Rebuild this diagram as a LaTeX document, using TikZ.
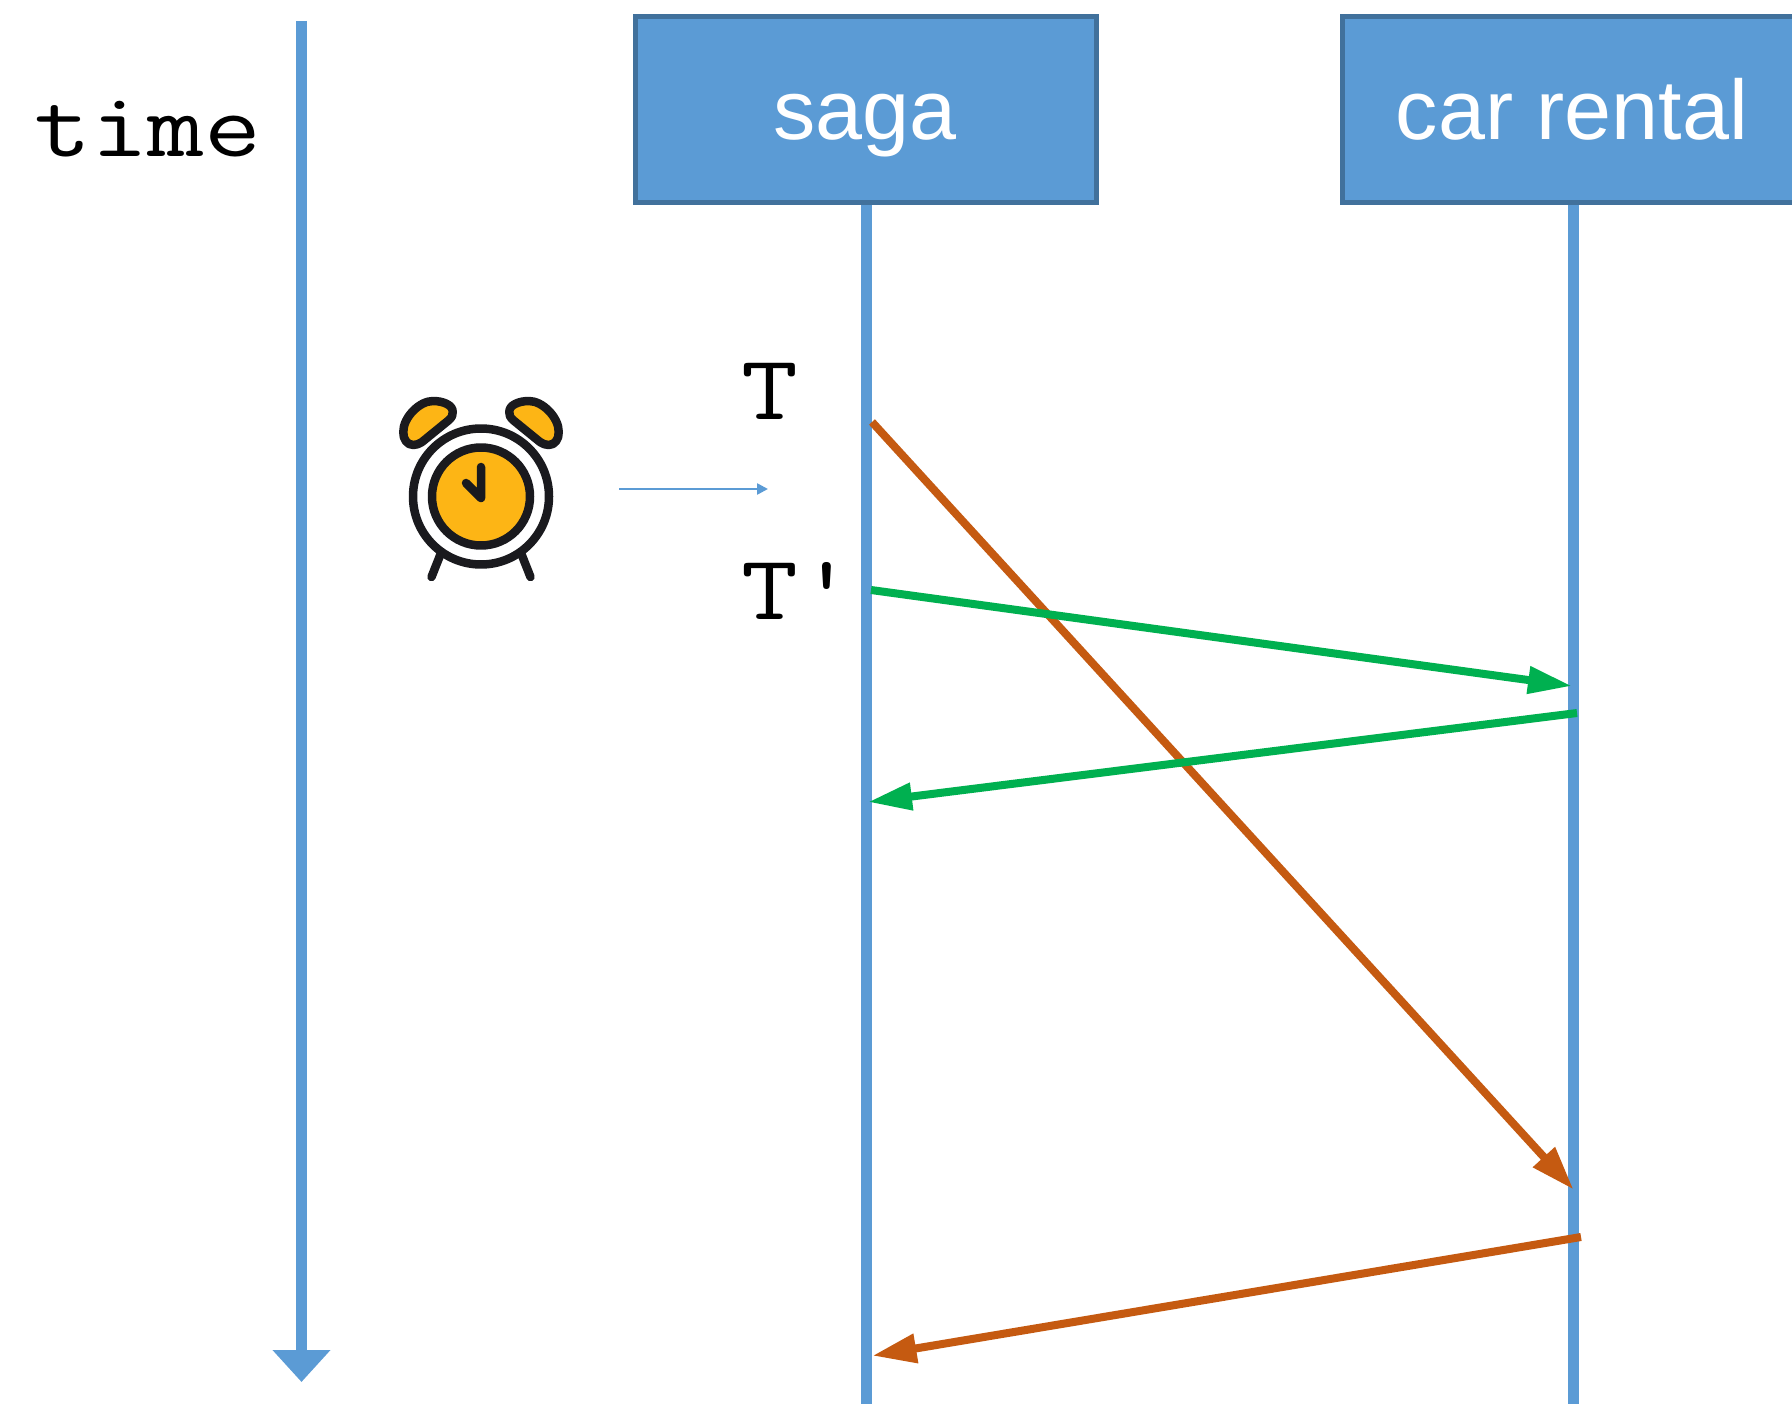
\documentclass[tikz,border=0pt]{standalone}
\usepackage{fontspec}
\setmainfont{Liberation Sans}
\usetikzlibrary{arrows.meta}
\definecolor{pblue}{HTML}{5B9BD5}
\definecolor{pborder}{HTML}{41719C}
\definecolor{pgreen}{HTML}{00B050}
\definecolor{porange}{HTML}{C55A11}
\definecolor{pyellow}{HTML}{FDB515}
\definecolor{pdark}{HTML}{1A1A1E}
\tikzset{
  actor/.style={draw=pborder,fill=pblue,line width=5.5pt,minimum width=461pt,minimum height=186pt,inner sep=0pt},
  actortext/.style={text=white,inner sep=0pt,anchor=base,font=\fontsize{84.5}{84.5}\selectfont},
  lifeline/.style={pblue,line width=11pt},
  msggreen/.style={pgreen,line width=8pt,-{Triangle[length=44pt,width=26pt]}},
  msgorange/.style={porange,line width=8pt,-{Triangle[length=44pt,width=28pt]}},
  mono/.style={inner sep=0pt,anchor=base west,xscale=1.2,font=\ttfamily\fontsize{92}{92}\selectfont},
  clockline/.style={pdark,line width=8.5pt,line cap=round,line join=round},
}
\begin{document}
\begin{tikzpicture}[x=1pt,y=-1pt]
\useasboundingbox (0,0) rectangle (1792,1404);
\clip (0,0) rectangle (1792,1404);
\fill[white] (0,0) rectangle (1792,1404);
% axis
\coordinate (axistop) at (301.5,21);
\coordinate (axisend) at (301.5,1382);
\draw[pblue,line width=11.5pt,-{Triangle[length=32pt,width=56pt]}] (axistop) -- (axisend);
\node[mono] (timelabel) at (34,157) {time};
% lifelines
\coordinate (sagabottom) at (866,1404);
\coordinate (carbottom) at (1573,1404);
\node[actor] (saga) at (866,109.5) {};
\node[actor] (car) at (1573,109.5) {};
\draw[lifeline] (saga.south) -- (sagabottom);
\draw[lifeline] (car.south) -- (carbottom);
\node[actortext] (sagatext) at (865,139.5) {saga};
\node[actortext] (cartext) at (1572,139.5) {car rental};
% labels
\node[mono] (tlabel) at (741,420) {T};
\node[mono] (tprime) at (741,619) {T'};
% messages
\coordinate (o1a) at (872,422);
\coordinate (o1b) at (1573.5,1189.5);
\coordinate (g1a) at (871,590);
\coordinate (g1b) at (1572,686);
\coordinate (g2a) at (1577,713);
\coordinate (g2b) at (868,802);
\coordinate (o2a) at (1581,1237);
\coordinate (o2b) at (872.5,1355.7);
\draw[msgorange] (o1a) -- (o1b);
\draw[msggreen] (g1a) -- (g1b);
\draw[msggreen] (g2a) -- (g2b);
\draw[msgorange] (o2a) -- (o2b);
% small arrow
\coordinate (sa) at (619,489);
\coordinate (sb) at (768,489);
\draw[pblue,line width=2.5pt,-{Triangle[length=11pt,width=11pt]}] (sa) -- (sb);
% clock
\draw[clockline,fill=pyellow] (413.3,445) .. controls (407,445) and (403,439) .. (403.3,432) .. controls (403,418) and (419,401) .. (433,401) .. controls (443,401) and (453,405) .. (452.7,412) .. controls (453,415) and (452,417) .. (449,420) -- (422,442) .. controls (419,444) and (416,445) .. (413.3,445) -- cycle;
\draw[clockline,fill=pyellow] (548.7,445) .. controls (555,445) and (559,439) .. (558.7,432) .. controls (559,418) and (543,401) .. (529,401) .. controls (519,401) and (509,405) .. (509.3,412) .. controls (509,415) and (510,417) .. (513,420) -- (540,442) .. controls (543,444) and (546,445) .. (548.7,445) -- cycle;
\draw[clockline,fill=white] (481,496.5) circle (68);
\draw[clockline,fill=pyellow] (481,496.5) circle (49);
\draw[clockline] (441,553) -- (431.5,577);
\draw[clockline] (521,553) -- (530.5,577);
\draw[clockline] (481,467) -- (481,498) -- (466,483);
\end{tikzpicture}
\end{document}
